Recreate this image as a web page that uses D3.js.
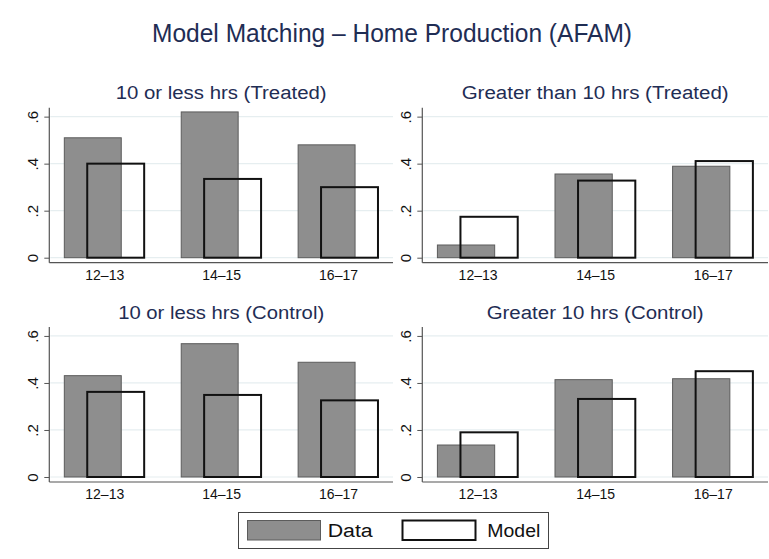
<!DOCTYPE html>
<html>
<head>
<meta charset="utf-8">
<script src="https://cdn.jsdelivr.net/npm/d3@7"></script>
<style>
  html, body { margin: 0; padding: 0; background: #fff; }
  svg text { font-family: "Liberation Sans", Arial, Helvetica, sans-serif; }
</style>
</head>
<body>
<svg id="chart" width="769" height="559"></svg>
<script>
// Age groups on the x axis
const ageGroups = ["12–13", "14–15", "16–17"];
const yTicks = [0, 0.2, 0.4, 0.6];
const yTickLabels = ["0", ".2", ".4", ".6"];

// Panel titles
const panelTitles = [
  "10 or less hrs (Treated)",
  "Greater than 10 hrs (Treated)",
  "10 or less hrs (Control)",
  "Greater 10 hrs (Control)"
];

// Observed shares (Data) and simulated shares (Model), one array per panel
const dataTreatedLow   = [0.51, 0.62, 0.48];
const modelTreatedLow  = [0.40, 0.335, 0.30];
const dataTreatedHigh  = [0.054, 0.356, 0.389];
const modelTreatedHigh = [0.174, 0.328, 0.411];
const dataControlLow   = [0.431, 0.567, 0.488];
const modelControlLow  = [0.362, 0.349, 0.326];
const dataControlHigh  = [0.136, 0.414, 0.418];
const modelControlHigh = [0.190, 0.332, 0.450];

const legendLabels = ["Data", "Model"];
const mainTitle = "Model Matching – Home Production (AFAM)";

const panelData = [
  [dataTreatedLow, modelTreatedLow],
  [dataTreatedHigh, modelTreatedHigh],
  [dataControlLow, modelControlLow],
  [dataControlHigh, modelControlHigh]
];

const svg = d3.select("#chart");
const titleColor = "#1f2d54";
const gridColor = "#e6eef0";
const axisColor = "#555";
const dataFill = "#8e8e8e";
const dataStroke = "#5c5c5c";
const modelStroke = "#111";

// Overall title
svg.append("text")
  .attr("x", 392).attr("y", 42)
  .attr("text-anchor", "middle")
  .attr("font-size", 25)
  .attr("fill", titleColor)
  .attr("textLength", 480).attr("lengthAdjust", "spacingAndGlyphs")
  .text(mainTitle);

// Plot-area frames for the 2x2 grid
const cols = [{ x0: 49.3, x1: 393 }, { x0: 422.3, x1: 768 }];
const rows = [{ y0: 107.7, y1: 262.7 }, { y0: 327, y1: 482 }];
const titleWidths = [211, 267, 206, 217];
const yDomain = [-0.0213, 0.638];

panelData.forEach((series, i) => {
  const c = cols[i % 2], r = rows[Math.floor(i / 2)];
  const g = svg.append("g");

  const x = d3.scalePoint().domain(ageGroups).range([c.x0, c.x1]).padding(0.47);
  const y = d3.scaleLinear().domain(yDomain).range([r.y1, r.y0]);
  const step = x.step();
  const barW = step * 0.487;
  const shift = step * 0.098;

  // Panel title
  g.append("text")
    .attr("x", (c.x0 + c.x1) / 2).attr("y", r.y0 - 8.5)
    .attr("text-anchor", "middle")
    .attr("font-size", 18)
    .attr("fill", titleColor)
    .attr("textLength", titleWidths[i]).attr("lengthAdjust", "spacingAndGlyphs")
    .text(panelTitles[i]);

  // Horizontal grid lines
  g.selectAll("line.grid").data(yTicks).join("line")
    .attr("class", "grid")
    .attr("x1", c.x0 + 1).attr("x2", c.x1)
    .attr("y1", d => y(d)).attr("y2", d => y(d))
    .attr("stroke", gridColor).attr("stroke-width", 1.2);

  // Data bars
  g.selectAll("rect.data").data(series[0]).join("rect")
    .attr("class", "data")
    .attr("x", (d, k) => x(ageGroups[k]) - shift - barW / 2)
    .attr("width", barW)
    .attr("y", d => y(d))
    .attr("height", d => y(0) - y(d))
    .attr("fill", dataFill)
    .attr("stroke", dataStroke).attr("stroke-width", 1);

  // Model bars (outlined)
  g.selectAll("rect.model").data(series[1]).join("rect")
    .attr("class", "model")
    .attr("x", (d, k) => x(ageGroups[k]) + shift - barW / 2)
    .attr("width", barW)
    .attr("y", d => y(d))
    .attr("height", d => y(0) - y(d))
    .attr("fill", "none")
    .attr("stroke", modelStroke).attr("stroke-width", 2);

  // Y axis
  const yAxis = d3.axisLeft(y).tickValues(yTicks)
    .tickFormat((d, k) => yTickLabels[k]).tickSize(5).tickPadding(6);
  const ya = g.append("g").attr("transform", `translate(${c.x0},0)`).call(yAxis);
  ya.select(".domain").attr("stroke", axisColor).attr("stroke-width", 1.2)
    .attr("d", `M0,${r.y0}V${r.y1}`);
  ya.selectAll(".tick line").attr("stroke", axisColor);
  ya.selectAll(".tick text")
    .attr("font-size", 15).attr("fill", "#111")
    .attr("transform", "rotate(-90)")
    .attr("x", 0).attr("dy", 0)
    .attr("y", -11)
    .attr("text-anchor", "middle");

  // X axis
  const xAxis = d3.axisBottom(x).tickSize(0).tickPadding(7);
  const xa = g.append("g").attr("transform", `translate(0,${r.y1})`).call(xAxis);
  xa.select(".domain").attr("stroke", axisColor).attr("stroke-width", 1.2)
    .attr("d", `M${c.x0},0H${c.x1}`);
  xa.selectAll(".tick text").attr("font-size", 14).attr("fill", "#111");
});

// Legend
const lg = svg.append("g");
lg.append("rect")
  .attr("x", 238.5).attr("y", 512.5).attr("width", 310).attr("height", 36)
  .attr("fill", "#fff").attr("stroke", "#444").attr("stroke-width", 1);
const keys = [
  { x: 247.5, fill: dataFill, stroke: dataStroke, sw: 1, tx: 327.7, tw: 45 },
  { x: 402.5, fill: "#fff", stroke: modelStroke, sw: 2, tx: 487.3, tw: 53 }
];
keys.forEach((k, i) => {
  lg.append("rect")
    .attr("x", k.x).attr("y", 520.5).attr("width", 73).attr("height", 19.5)
    .attr("fill", k.fill).attr("stroke", k.stroke).attr("stroke-width", k.sw);
  lg.append("text")
    .attr("x", k.tx).attr("y", 536.5)
    .attr("font-size", 18).attr("fill", "#111")
    .attr("textLength", k.tw).attr("lengthAdjust", "spacingAndGlyphs")
    .text(legendLabels[i]);
});
</script>
</body>
</html>
